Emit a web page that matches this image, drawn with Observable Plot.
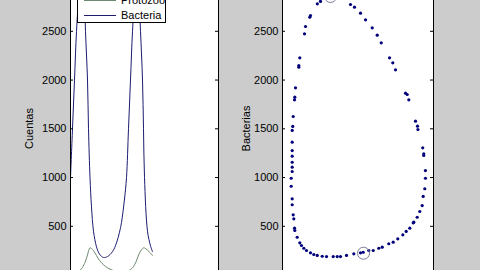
<!DOCTYPE html>
<html><head><meta charset="utf-8">
<script src="https://cdn.jsdelivr.net/npm/d3@7"></script>
<script src="https://cdn.jsdelivr.net/npm/@observablehq/plot@0.6"></script>
<style>
html,body{margin:0;padding:0;background:#cccccc;}
#fig{position:relative;width:480px;height:270px;overflow:hidden;background:#cccccc;font-family:"Liberation Sans",Arial,sans-serif;}
.panel{position:absolute;top:-30px;}
#legend{position:absolute;background:#fff;border:1px solid #000;font-size:11px;color:#000;}
.entry{position:absolute;left:0;height:14px;width:100%;}
.entry .ln{position:absolute;left:6px;top:7px;width:32px;height:0;border-top:1px solid;}
.entry .lb{position:absolute;left:43px;top:0;line-height:14px;}
</style></head><body><div id="fig"></div>
<script>
// time (arbitrary units), shared by both series
const timeT = [0,0.243,0.486,0.730,0.973,1.155,1.338,1.520,1.703,1.824,2.068,2.189,2.372,2.554,2.797,3.162,3.527,4.014,4.500,5.108,5.595,5.960,6.203,6.568,6.811,7.054,7.297,7.541,7.784,7.966,8.149,8.331,8.514,8.757,8.879,9.000,9.365,9.730,9.973];
const bacteria = [1000,1500,2000,2500,2820,2960,3010,2960,2820,2500,2000,1500,1000,700,450,290,215,180,190,240,330,440,540,780,1000,1500,2000,2500,2820,2970,2970,2820,2500,2000,1500,1000,450,300,240];
const protozoo = [22,24,28,34,42,50,64,88,118,145,205,245,280,272,250,200,150,105,75,50,38,33,33,36,40,46,56,75,105,135,175,215,245,270,280,278,255,225,200];
const seriesNames = ["Protozoo","Bacteria"];
const seriesColors = ["#6f8a70","#1c1c70"];
// phase plane samples (Protozoo, Bacterias)
const phaseProtozoo = [100,105.4,88.2,87,79.6,77.9,69.8,68.1,68.1,62.4,61.2,60.7,58.4,57.7,56.7,56.7,56.7,56.7,56.7,56.7,56.7,55,55,56.7,56.7,58.4,59.5,60.7,61.2,65.3,69.8,72.7,76.7,81.3,88.2,93.9,99.8,108.4,115.8,127.3,134.2,139.9,150.2,162.8,174.3,179,188.6,196.2,205.8,211.7,223,230.6,238.5,247.2,253,259.2,265.1,266.1,271.9,276.4,280.5,282.2,285,286.1,286.1,283.2,283.2,281.5,273.2,272.5,269,257.5,254.7,251.8,234.6,229.9,224.3,210,203.1,194.5,183,174.3,164,157.1];
const phaseBacterias = [2782,2806,2662,2645,2549,2474,2228,2149,2132,1920,1824,1797,1626,1524,1483,1363,1277,1219,1157,1106,1062,993,911,782,721,618,577,481,457,388,331,303,275,252,228,211,201,193,190,190,190,190,201,218,228,234,252,252,275,286,321,337,372,413,447,481,536,542,593,652,713,806,885,993,1072,1226,1244,1305,1493,1527,1578,1797,1852,1865,2105,2177,2228,2382,2460,2536,2618,2686,2747,2775];
const circleProtozoo = [179.5,122.7];
const circleBacterias = [224,2857];
const yTicks = [500,1000,1500,2000,2500];
const yLabelLeft = "Cuentas";
const yLabelRight = "Bacterias";

const yDomain = [-14.8, 3021];
const font = "Liberation Sans, Arial, Helvetica, sans-serif";

const series = [];
seriesNames.forEach((s, k) => {
  const vals = k === 0 ? protozoo : bacteria;
  timeT.forEach((t, i) => series.push({s, t, v: vals[i]}));
});
const phase = phaseProtozoo.map((x, i) => ({x, y: phaseBacterias[i]}));
const circles = circleProtozoo.map((x, i) => ({x, y: circleBacterias[i]}));

function tickMarks(innerW) {
  return [
    Plot.ruleY(yTicks, {insetRight: innerW - 3, stroke: "#000"}),
    Plot.ruleY(yTicks, {insetLeft: innerW - 3, stroke: "#000"})
  ];
}

const leftW = 240 - 70 - 22;
const left = Plot.plot({
  width: 240, height: 316,
  marginLeft: 70, marginRight: 22, marginTop: 10, marginBottom: 10,
  x: {domain: [0, 18], axis: null},
  y: {domain: yDomain, axis: null},
  color: {domain: seriesNames, range: seriesColors},
  style: {background: "transparent", fontFamily: font, fontSize: "11px", color: "#000"},
  marks: [
    Plot.frame({fill: "#fff", stroke: "none"}),
    Plot.line(series, {x: "t", y: "v", z: "s", stroke: "s", strokeWidth: 1, curve: "catmull-rom", clip: true}),
    ...tickMarks(leftW),
    Plot.frame({stroke: "#000"}),
    Plot.axisY({ticks: yTicks, tickSize: 0, tickPadding: 4, tickFormat: "d", fontSize: 11,
      label: yLabelLeft, labelAnchor: "center", labelOffset: 45, labelArrow: "none"})
  ]
});

const rightW = 240 - 42 - 47;
const right = Plot.plot({
  width: 240, height: 316,
  marginLeft: 42, marginRight: 47, marginTop: 10, marginBottom: 10,
  x: {domain: [40, 300], axis: null},
  y: {domain: yDomain, axis: null},
  style: {background: "transparent", fontFamily: font, fontSize: "11px", color: "#000"},
  marks: [
    Plot.frame({fill: "#fff", stroke: "none"}),
    Plot.dot(phase, {x: "x", y: "y", r: 1.6, fill: "#00007a", stroke: "none", clip: true}),
    Plot.dot(circles, {x: "x", y: "y", r: 6, stroke: "#7a7a9a", strokeWidth: 1, fill: "none", clip: true}),
    ...tickMarks(rightW),
    Plot.frame({stroke: "#000"}),
    Plot.axisY({ticks: yTicks, tickSize: 0, tickPadding: 4, tickFormat: "d", fontSize: 11,
      label: yLabelRight, labelAnchor: "center", labelOffset: 40, labelArrow: "none"})
  ]
});

const fig = document.getElementById("fig");
left.classList.add("panel"); left.style.left = "0px";
right.classList.add("panel"); right.style.left = "240px";
fig.appendChild(left);
fig.appendChild(right);

const legend = document.createElement("div");
legend.id = "legend";
legend.style.left = "77px"; legend.style.top = "-14px";
legend.style.width = "87px"; legend.style.height = "35px";
seriesNames.forEach((n, k) => {
  const e = document.createElement("div");
  e.className = "entry";
  e.style.top = (6 + k * 15) + "px";
  const ln = document.createElement("div"); ln.className = "ln"; ln.style.borderTopColor = seriesColors[k];
  const lb = document.createElement("div"); lb.className = "lb"; lb.textContent = n;
  e.appendChild(ln); e.appendChild(lb);
  legend.appendChild(e);
});
fig.appendChild(legend);
</script></body></html>
